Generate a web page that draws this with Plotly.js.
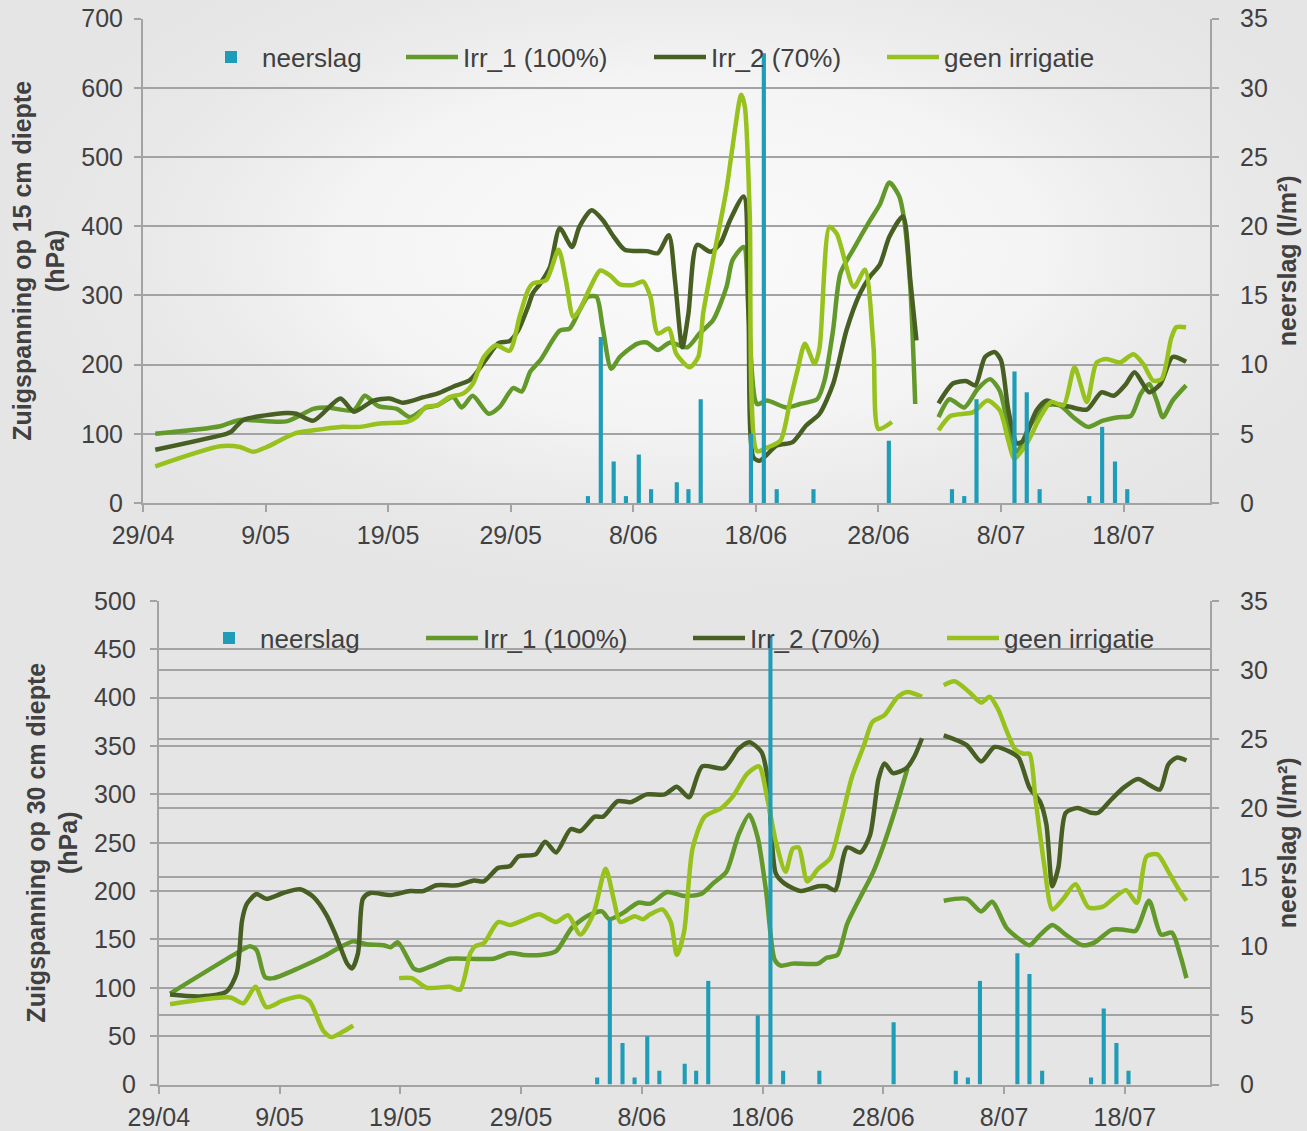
<!DOCTYPE html>
<html>
<head>
<meta charset="utf-8">
<script src="https://cdn.plot.ly/plotly-3.0.1.min.js"></script>
<style>
html,body{margin:0;padding:0;background:#e5e5e5;}
#chart{width:1307px;height:1131px;}
</style>
</head>
<body>
<div id="chart"></div>
<script>
// ---------- DATA ----------
// x positions are days after 29/04
const tickDays = [0,10,20,30,40,50,60,70,80];
const tickLabels = ['29/04','9/05','19/05','29/05','8/06','18/06','28/06','8/07','18/07'];
const seriesNames = ['neerslag','Irr_1 (100%)','Irr_2 (70%)','geen irrigatie'];

const rainDays = [36.3,37.35,38.4,39.4,40.45,41.45,43.55,44.5,45.5,49.6,50.65,51.7,54.7,60.85,66.0,67.0,68.0,71.1,72.1,73.15,77.2,78.25,79.3,80.3];
const rainValues = [0.5,12,3,0.5,3.5,1,1.5,1,7.5,5,32.5,1,1,4.5,1,0.5,7.5,9.5,8,1,0.5,5.5,3,1];

// 15 cm depth
const d15Irr1Days = [1.0,6.3,7.9,11.7,13.9,15.0,17.2,18.1,19.2,20.7,21.8,23.1,24.0,25.3,26.0,26.9,28.2,29.1,30.2,30.9,31.6,32.4,34.0,34.8,35.6,36.3,37.0,37.5,38.2,38.9,40.3,41.1,42.0,43.0,44.4,45.4,46.5,47.6,48.1,49.0,49.4,50.1,50.9,52.5,53.6,55.0,55.6,56.3,56.9,58.0,59.3,60.1,60.9,61.7,62.1,62.6,63.0,null,64.9,65.8,67.0,68.1,69.1,69.9,70.6,71.3,72.3,73.7,74.8,75.9,77.1,78.3,79.6,80.6,81.4,82.1,82.7,83.2,84.0,85.1];
const d15Irr1 = [100,111,120,118,136,138,134,155,140,136,124,138,141,153,138,155,129,139,166,161,190,206,249,252,278,298,298,254,194,211,230,232,221,232,225,245,264,312,351,370,274,143,148,138,143,150,177,250,332,368,408,431,463,443,409,312,143,null,124,150,138,165,179,162,110,74,110,141,141,124,110,119,124,126,158,172,148,124,148,170];

const d15Irr2Days = [1.0,6.8,7.2,8.2,11.7,12.5,13.9,16.1,17.2,18.8,20.1,21.2,22.9,24.0,25.3,26.7,28.0,29.0,29.9,30.6,31.4,31.8,32.4,33.2,34.0,35.0,35.6,36.6,37.5,38.4,39.3,41.1,42.0,42.9,43.4,44.0,44.5,45.2,46.3,47.1,47.9,49.0,49.4,49.8,50.3,51.7,53.0,54.1,55.2,56.3,57.4,58.5,59.3,60.1,60.9,62.0,62.6,63.1,null,64.9,66.1,67.2,67.9,68.7,69.5,70.0,70.6,71.3,71.8,72.9,73.7,74.5,75.6,77.0,78.2,79.2,80.2,80.9,82.1,83.0,84.0,85.1];
const d15Irr2 = [77,100,103,120,130,129,119,151,132,148,151,145,153,158,168,178,208,231,234,249,283,303,317,341,397,370,399,423,409,385,366,364,361,387,322,225,274,373,363,375,409,443,273,66,61,83,88,112,129,172,250,303,327,344,385,414,322,235,null,144,173,176,170,211,218,206,134,86,90,134,148,143,139,135,160,155,172,189,160,172,211,204];

const d15NoIrrDays = [1.0,6.3,7.9,9.0,10.1,12.3,13.9,16.1,17.7,19.3,21.5,22.3,23.1,24.0,25.0,26.1,26.9,27.8,28.8,29.9,30.75,31.4,31.8,32.9,33.9,34.5,35.1,35.6,36.5,37.3,38.1,38.9,40.0,40.8,41.4,42.0,42.9,43.5,44.6,45.3,45.7,46.5,47.6,48.1,48.8,49.1,49.5,50.1,50.9,52.0,52.8,53.4,54.0,54.8,55.2,56.0,56.6,58.0,58.9,59.6,60.0,61.1,null,64.9,65.9,67.7,68.9,69.9,70.6,71.1,72.1,73.2,74.1,75.1,76.0,77.0,77.8,78.6,79.7,80.8,81.6,82.4,83.1,83.9,84.3,85.1];
const d15NoIrr = [53,82,81,74,81,100,105,110,110,115,117,124,139,141,153,158,172,211,228,220,271,307,317,322,366,322,269,279,312,336,329,316,315,320,298,245,252,216,196,211,274,351,453,515,590,573,418,75,80,90,148,192,230,201,225,399,389,312,337,225,107,117,null,105,126,131,148,134,90,64,86,124,146,141,196,146,203,208,203,215,201,177,179,239,254,254];

// 30 cm depth
const d30Irr1Days = [0.93,6.2,7.55,8.1,8.8,9.5,11.7,13.6,15.0,16.1,17.2,18.6,19.2,19.8,21.1,21.6,22.7,24.1,25.8,27.7,29.1,30.2,31.6,32.9,34.2,35.6,36.7,37.3,38.4,39.7,40.7,42.1,43.5,44.9,45.9,47.0,48.0,48.9,49.6,50.3,51.0,51.5,52.5,54.6,55.3,56.2,57.0,58.1,59.1,60.0,60.9,62.0,null,65.0,66.9,68.1,69.0,70.2,71.2,72.1,73.0,74.0,75.1,76.5,77.5,78.9,79.9,80.9,82.0,83.0,83.9,84.6,85.1];
const d30Irr1 = [94,134,143,139,111,110,121,132,142,148,145,144,142,147,120,118,123,130,130,130,136,134,134,138,162,175,179,171,177,188,187,199,195,197,208,220,258,279,255,199,129,123,125,125,131,134,166,194,218,247,281,327,null,190,192,179,189,162,151,144,155,165,155,144,147,160,160,159,190,155,157,133,110];

const d30Irr2Days = [0.93,3.4,5.6,6.45,6.9,7.3,8.1,8.9,10.3,11.7,12.8,13.9,14.7,15.6,16.0,16.5,16.9,17.5,19.2,20.8,21.9,23.0,24.7,26.1,26.9,28.1,29.1,29.8,31.2,32.0,32.9,34.1,34.9,36.1,36.8,38.0,39.1,40.4,41.9,42.9,43.9,45.0,46.8,48.0,48.9,49.9,50.4,50.7,51.1,51.8,53.2,54.6,55.3,56.0,57.0,58.1,58.9,59.6,60.1,60.8,61.9,62.6,63.2,null,65.0,66.9,68.1,69.2,70.5,71.2,72.1,73.0,73.5,74.0,74.5,75.1,76.1,77.2,77.8,78.9,79.9,81.1,82.0,82.9,83.6,84.3,85.1];
const d30Irr2 = [93,91,96,115,170,187,197,192,198,202,194,175,153,125,120,136,192,198,196,200,200,206,206,211,210,224,226,236,238,251,240,264,262,277,277,293,292,300,300,308,297,329,327,347,354,344,318,266,218,208,200,205,205,201,245,240,258,316,332,322,327,340,358,null,361,351,334,349,344,338,307,292,269,205,225,281,286,281,281,295,307,316,310,305,331,338,335];

const d30NoIrrDays = [0.93,5.9,7.0,8.0,8.9,10.3,11.7,12.5,13.6,14.3,15.3,16.1,null,19.9,20.95,22.2,24.1,24.95,25.8,26.2,26.9,28.1,29.1,30.2,31.5,32.9,33.9,34.9,36.0,37.0,37.7,38.2,39.4,40.1,40.7,41.7,42.4,42.9,43.5,44.2,45.2,46.6,47.6,48.7,49.7,50.4,51.1,51.9,52.5,53.0,53.7,54.6,55.6,56.5,57.4,58.4,59.1,60.1,61.2,62.0,63.2,null,65.0,65.9,67.1,68.1,68.8,69.5,70.2,70.9,71.6,72.1,72.6,73.3,74.0,74.9,75.9,77.0,78.2,79.2,80.1,81.0,81.8,82.7,83.7,84.4,85.1];
const d30NoIrr = [83,90,84,101,80,87,91,86,56,49,55,61,null,110,110,100,101,98,136,143,146,168,165,170,176,168,175,155,177,223,190,168,174,171,176,181,168,134,158,244,277,286,299,321,329,295,251,220,244,245,210,223,234,273,318,351,375,382,401,406,401,null,413,417,406,395,401,388,366,347,342,342,295,229,181,192,207,183,184,194,201,188,236,238,218,203,190];

// ---------- STYLE ----------
const W = 1307, H = 1131;
const FONT = '"Liberation Sans", Arial, sans-serif';
const TXT = '#404040';
const GRID = '#a3a3a3';
const colRain = '#1f9db8';
const colIrr1 = '#62992a';
const colIrr2 = '#475f23';
const colNo = '#97c11c';

function bg(){
  const c = document.createElement('canvas'); c.width = W; c.height = H;
  const g = c.getContext('2d');
  g.fillStyle = '#e5e5e5'; g.fillRect(0,0,W,H);
  g.save();
  g.translate(690, 250); g.scale(1, 0.5);
  const rg = g.createRadialGradient(0,0,10,0,0,760);
  rg.addColorStop(0, 'rgba(250,250,250,1)');
  rg.addColorStop(0.45, 'rgba(244,244,244,1)');
  rg.addColorStop(1, 'rgba(229,229,229,0)');
  g.fillStyle = rg; g.fillRect(-800,-800,1600,1600);
  g.restore();
  return c.toDataURL();
}

function lineTrace(x, y, name, color, xa, ya, leg){
  return {type:'scatter', mode:'lines', x:x, y:y, name:name, xaxis:xa, yaxis:ya,
    legend:leg, connectgaps:false,
    line:{color:color, width:4.5, shape:'spline', smoothing:0.7}, hoverinfo:'skip'};
}
function barTrace(xa, ya, leg){
  return {type:'bar', x:rainDays, y:rainValues, name:seriesNames[0], xaxis:xa, yaxis:ya,
    legend:leg, width:0.34, marker:{color:colRain, line:{width:0}}, hoverinfo:'skip'};
}

const traces = [
  lineTrace(d15Irr1Days, d15Irr1, seriesNames[1], colIrr1, 'x', 'y', 'legend2'),
  lineTrace(d15Irr2Days, d15Irr2, seriesNames[2], colIrr2, 'x', 'y', 'legend3'),
  lineTrace(d15NoIrrDays, d15NoIrr, seriesNames[3], colNo, 'x', 'y', 'legend4'),
  barTrace('x', 'y2', 'legend'),
  lineTrace(d30Irr1Days, d30Irr1, seriesNames[1], colIrr1, 'x2', 'y3', 'legend6'),
  lineTrace(d30Irr2Days, d30Irr2, seriesNames[2], colIrr2, 'x2', 'y3', 'legend7'),
  lineTrace(d30NoIrrDays, d30NoIrr, seriesNames[3], colNo, 'x2', 'y3', 'legend8'),
  barTrace('x2', 'y4', 'legend5')
];

const tickFont = {family:FONT, size:25, color:TXT};
const titleFont = {family:FONT, size:25, color:TXT, weight:'bold'};
function xAxis(domain, anchor){
  return {domain:domain, anchor:anchor, range:[0,87.05], tickmode:'array',
    tickvals:tickDays, ticktext:tickLabels, ticks:'outside', ticklen:7, tickwidth:2,
    tickcolor:GRID, showline:true, linecolor:GRID, linewidth:2, showgrid:false,
    zeroline:false, tickfont:tickFont, ticklabelstandoff:2, fixedrange:true};
}
function yLeft(domain, anchor, max, dtick, title, lblOff, titleOff){
  return {domain:domain, anchor:anchor, range:[0,max], dtick:dtick, tick0:0,
    ticks:'outside', ticklen:7, tickwidth:2, tickcolor:GRID,
    showline:true, linecolor:GRID, linewidth:2, showgrid:true, gridcolor:GRID, gridwidth:2,
    zeroline:false, tickfont:tickFont, ticklabelstandoff:lblOff,
    title:{text:title, font:titleFont, standoff:titleOff}, fixedrange:true};
}
function yRight(overlay, anchor, grid){
  return {overlaying:overlay, anchor:anchor, side:'right', range:[0,35], dtick:5, tick0:0,
    ticks:'outside', ticklen:7, tickwidth:2, tickcolor:GRID,
    showline:true, linecolor:GRID, linewidth:2, showgrid:grid, gridcolor:GRID, gridwidth:2,
    zeroline:false, tickfont:tickFont, ticklabelstandoff:16,
    title:{text:'neerslag (l/m²)', font:titleFont, standoff:12}, fixedrange:true};
}

function leg(px, py){
  return {x:px/W, y:1-py/H, xanchor:'left', yanchor:'middle', orientation:'h',
    bgcolor:'rgba(0,0,0,0)', borderwidth:0, itemwidth:52,
    font:{family:FONT, size:26, color:TXT}};
}

const layout = {
  width:W, height:H, margin:{l:0,r:0,t:0,b:0,pad:0},
  paper_bgcolor:'rgba(0,0,0,0)', plot_bgcolor:'rgba(0,0,0,0)',
  font:{family:FONT, color:TXT},
  barmode:'overlay', showlegend:true,
  images:[{source:bg(), xref:'paper', yref:'paper', x:0, y:1, sizex:1, sizey:1,
    sizing:'stretch', layer:'below', xanchor:'left', yanchor:'top'}],
  xaxis: xAxis([143/W, 1210/W], 'y'),
  yaxis: yLeft([1-503/H, 1-18.6/H], 'x', 700, 100, 'Zuigspanning op 15 cm diepte<br>(hPa)', 6, 10),
  yaxis2: yRight('y', 'x', false),
  xaxis2: xAxis([158.8/W, 1210/W], 'y3'),
  yaxis3: yLeft([1-1084.5/H, 1-601/H], 'x2', 500, 50, 'Zuigspanning op 30 cm diepte<br>(hPa)', 9, 9),
  yaxis4: yRight('y3', 'x2', true),
  legend: leg(200, 57), legend2: leg(401, 57), legend3: leg(649, 57), legend4: leg(882, 57),
  legend5: leg(198, 638), legend6: leg(421, 638), legend7: leg(688, 638), legend8: leg(942, 638)
};

Plotly.newPlot('chart', traces, layout, {displayModeBar:false, staticPlot:true});
</script>
</body>
</html>
